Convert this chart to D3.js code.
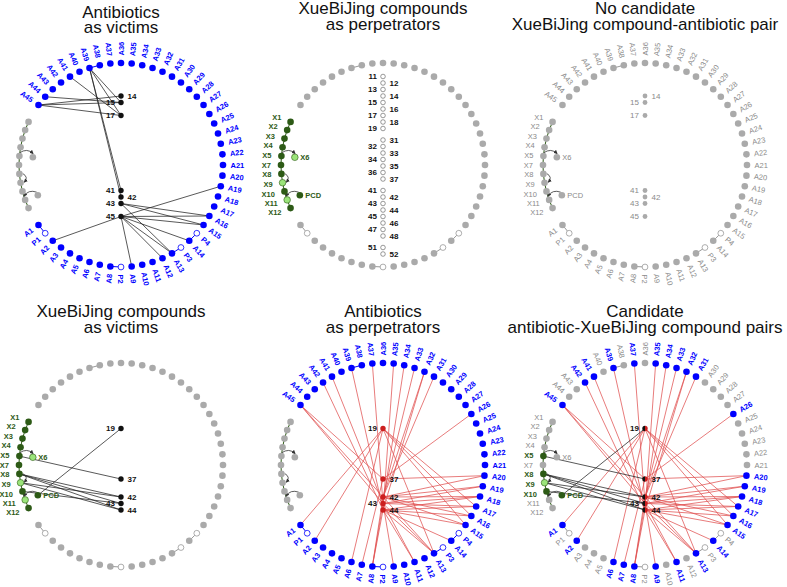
<!DOCTYPE html>
<meta charset="utf-8">
<style>
body { margin: 0; background: #fff; }
text { font-family: "Liberation Sans", Arial, sans-serif; }
</style>
<body>
<svg width="787" height="587"></svg>
<script src="https://d3js.org/d3.v7.min.js"></script>
<script>
// ring of antibiotics, clockwise from upper left (A45) to lower left (A1)
var ringNames = ["A45","A44","A43","A42","A41","A40","A39","A38","A37",
  "A36","A35","A34","A33","A32","A31","A30","A29","A28","A27","A26","A25","A24","A23","A22","A21",
  "A20","A19","A18","A17","A16","A15","P4","A14","P3","A13","A12","A11","A10","A9","P2",
  "A8","A7","A6","A5","A4","A3","A2","P1","A1"];
// XueBiJing compounds on the left arc, top to bottom
var xChain = ["X1","X2","X3","X4","X5","X7","X8","X9","X10","X11","X12"];
var xBranch = [["X6","X5"], ["PCD","X11"]];          // branch node, sits next to
var xMetabolites = ["X6","X9","X11"];
var xArrows = [["X5","X6"], ["X8","X9"], ["PCD","X11"]];
var prodrugLinks = [["A1","P1"], ["A8","P2"], ["A13","P3"], ["A14","P4"], ["A39","A38"]];
// central targets, in groups
var innerGroups = [["11","12","13","14","15","16","17","18","19"],
  ["31","32","33","34","35","36","37"],
  ["41","42","43","44","45","46","47","48"],
  ["51","52"]];

var victimInner = ["14","15","17","41","42","43","45"];
var victimEdges = [["14","A45"],["15","A45"],["17","A45"],["15","A44"],["17","A41"],
  ["15","A39"],["17","A39"],["41","A39"],["42","A39"],
  ["43","A16"],["43","A15"],["43","A13"],
  ["45","A19"],["45","A16"],["45","A15"],["45","A14"],["45","A13"],["45","A12"],["45","A9"],["45","A2"]];

var xbjInner = ["19","37","42","43","44"];
var xbjVictimEdges = [["19","PCD"],["37","X5"],["42","X8"],["43","X8"],["44","X8"],
  ["42","X9"],["44","X9"],["43","X10"]];

var perpEdges = [["19","A1"],["19","A2"],["19","A6"],["19","A13"],["19","A15"],["19","A16"],["19","A17"],
  ["37","A7"],["37","A20"],["37","A26"],["37","A45"],
  ["42","A8"],["42","A13"],["42","A15"],["42","A16"],["42","A18"],["42","A19"],["42","A20"],["42","A31"],["42","A32"],["42","A33"],["42","A45"],
  ["43","A8"],["43","A9"],["43","A11"],["43","A13"],["43","A17"],["43","A18"],["43","A19"],["43","A34"],["43","A37"],["43","A41"],["43","A45"],
  ["44","A8"],["44","A11"],["44","A13"],["44","A14"],["44","A15"],["44","A16"],["44","A17"],["44","A18"],["44","A32"],["44","A35"],["44","A39"],["44","A42"]];

var titles = [["Antibiotics","as victims"], ["XueBiJing compounds","as perpetrators"],
  ["No candidate","XueBiJing compound-antibiotic pair"], ["XueBiJing compounds","as victims"],
  ["Antibiotics","as perpetrators"], ["Candidate","antibiotic-XueBiJing compound pairs"]];

var BLUE = "#0000ff", GRAY = "#aaaaaa", GRAYTXT = "#8a8a8a", DKGREEN = "#2d5a16",
    LTGREEN = "#9be47a", RED = "#cc1f1f", REDLINE = "#e05050";

var R = 102, RL = 109.5, RX = 112, RB = 88.5, NR = 3.3;

var svg = d3.select("svg");
svg.append("defs").append("marker")
    .attr("id", "arr").attr("viewBox", "0 -3 6 6")
    .attr("refX", 5).attr("refY", 0)
    .attr("markerUnits", "userSpaceOnUse")
    .attr("markerWidth", 4).attr("markerHeight", 4)
    .attr("orient", "auto")
  .append("path").attr("d", "M0,-3L6,0L0,3Z").attr("fill", "#333");

var angle = d3.scaleLinear().domain([0, ringNames.length - 1]).range([-54, 234]);
var xAngle = d3.scaleLinear().domain([0, xChain.length - 1]).range([295, 245]);
var innerSlots = [];
innerGroups.forEach(function(g, gi) {
  g.forEach(function(id) { innerSlots.push({id: id, slot: innerSlots.length + gi * 0.77}); });
});
var innerY = d3.scaleLinear().domain([0, 1]).range([-88.5, -82]);

function polar(a, r) {
  var t = a * Math.PI / 180;
  return [r * Math.sin(t), -r * Math.cos(t)];
}

// node positions, relative to a panel centre
var pos = {};
ringNames.forEach(function(n, i) { pos[n] = polar(angle(i), R); });
xChain.forEach(function(n, i) { pos[n] = polar(xAngle(i), R); });
xBranch.forEach(function(b) { pos[b[0]] = polar(xAngle(xChain.indexOf(b[1])), RB); });
innerSlots.forEach(function(d, i) { pos[d.id] = [0, innerY(d.slot)]; d.left = i % 2 === 0; });
var innerIndex = {};
innerSlots.forEach(function(d) { innerIndex[d.id] = d; });

var layout = [
  {cx: 121, cy: 165, ty: 17.5, ring: "blue", chain: "plain", inner: victimInner, innerStyle: "black",
   edges: [[victimEdges, "#222"]]},
  {cx: 383, cy: 165, ty: 14, ring: "gray", chain: "green", inner: innerSlots.map(function(d) { return d.id; }), innerStyle: "open",
   edges: []},
  {cx: 645, cy: 165, ty: 14, ring: "grayLabels", chain: "grayLabels", inner: victimInner, innerStyle: "gray",
   edges: []},
  {cx: 121, cy: 465, ty: 316.7, ring: "gray", chain: "green", inner: xbjInner, innerStyle: "black",
   edges: [[xbjVictimEdges, "#222"]]},
  {cx: 383, cy: 465, ty: 316.7, ring: "blue", chain: "plain", inner: xbjInner, innerStyle: "red",
   edges: [[perpEdges, REDLINE]]},
  {cx: 645, cy: 465, ty: 316.7, ring: "select", chain: "select", inner: xbjInner, innerStyle: "half",
   edges: [[perpEdges, REDLINE], [xbjVictimEdges, "#222"]]}
];

var selA = {}, selX = {};
perpEdges.forEach(function(e) { selA[e[1]] = true; });
xbjVictimEdges.forEach(function(e) { selX[e[1]] = true; });

layout.forEach(function(p, pi) {
  titles[pi].forEach(function(t, k) {
    svg.append("text").attr("x", p.cx).attr("y", p.ty + k * 15.8)
        .attr("text-anchor", "middle").style("font-size", "17px").attr("fill", "#111")
        .text(t);
  });

  var g = svg.append("g").attr("transform", "translate(" + p.cx + "," + p.cy + ")");

  // interaction edges
  p.edges.forEach(function(set) {
    g.selectAll(null).data(set[0]).enter().append("line")
        .attr("x1", function(d) { return pos[d[0]][0]; })
        .attr("y1", function(d) { return pos[d[0]][1]; })
        .attr("x2", function(d) { return pos[d[1]][0]; })
        .attr("y2", function(d) { return pos[d[1]][1]; })
        .attr("stroke", set[1]).attr("stroke-width", 0.75);
  });

  // ring
  var ringOn = function(n) {
    if (p.ring === "blue") return true;
    if (p.ring === "select") return !!selA[n];
    return false;
  };
  g.selectAll(null).data(prodrugLinks).enter().append("line")
      .attr("x1", function(d) { return pos[d[0]][0]; })
      .attr("y1", function(d) { return pos[d[0]][1]; })
      .attr("x2", function(d) { return pos[d[1]][0]; })
      .attr("y2", function(d) { return pos[d[1]][1]; })
      .attr("stroke", function(d) { return p.ring === "blue" ? BLUE : "#999"; })
      .attr("stroke-width", 1);
  var ring = ringNames.map(function(n, i) { return {name: n, a: (angle(i) + 360) % 360, p: n[0] === "P"}; });
  g.selectAll(null).data(ring).enter().append("circle")
      .attr("cx", function(d) { return pos[d.name][0]; })
      .attr("cy", function(d) { return pos[d.name][1]; })
      .attr("r", function(d) { return d.p ? NR - 0.4 : NR; })
      .attr("fill", function(d) { return d.p ? "#fff" : (ringOn(d.name) ? BLUE : GRAY); })
      .attr("stroke", function(d) { return d.p ? (p.ring === "blue" ? BLUE : "#999") : "none"; })
      .attr("stroke-width", 0.8);
  if (p.ring !== "gray") {
    g.selectAll(null).data(ring).enter().append("text")
        .attr("transform", function(d) {
          return "rotate(" + (d.a - 90) + ")translate(" + RL + ",0)" + (d.a > 180 ? "rotate(180)" : "");
        })
        .attr("text-anchor", function(d) { return d.a > 180 ? "end" : "start"; })
        .attr("dy", "0.35em")
        .style("font-size", "7.5px")
        .style("font-weight", function(d) {
          return (p.ring === "blue" || ringOn(d.name)) && !(p.ring === "select" && d.p) ? "bold" : "normal";
        })
        .attr("fill", function(d) {
          if (p.ring === "blue") return BLUE;
          return ringOn(d.name) ? BLUE : GRAYTXT;
        })
        .text(function(d) { return d.name; });
  }

  // XueBiJing chain
  var chainLine = d3.line().x(function(n) { return pos[n][0]; }).y(function(n) { return pos[n][1]; });
  g.append("path").attr("d", chainLine(xChain)).attr("fill", "none")
      .attr("stroke", DKGREEN).attr("stroke-width", 1);
  g.selectAll(null).data(xArrows).enter().append("path")
      .attr("d", function(d) {
        var a = pos[d[0]], b = pos[d[1]];
        var dx = b[0] - a[0], dy = b[1] - a[1], L = Math.sqrt(dx * dx + dy * dy);
        var ux = dx / L, uy = dy / L;
        var nx = uy, ny = -ux;
        if (nx - ny < 0) { nx = -nx; ny = -ny; }
        var s = [a[0] + nx * NR, a[1] + ny * NR], e = [b[0] + nx * (NR + 0.5), b[1] + ny * (NR + 0.5)];
        var c = [(a[0] + b[0]) / 2 + nx * 9, (a[1] + b[1]) / 2 + ny * 9];
        return "M" + s + "Q" + c + " " + e;
      })
      .attr("fill", "none").attr("stroke", "#333").attr("stroke-width", 0.8)
      .attr("marker-end", "url(#arr)");
  var xNodes = xChain.concat(xBranch.map(function(b) { return b[0]; }));
  var xOn = function(n) {
    if (p.chain === "green") return true;
    if (p.chain === "select") return !!selX[n];
    return false;
  };
  g.selectAll(null).data(xNodes).enter().append("circle")
      .attr("cx", function(n) { return pos[n][0]; })
      .attr("cy", function(n) { return pos[n][1]; })
      .attr("r", NR)
      .attr("fill", function(n) {
        if (!xOn(n)) return GRAY;
        return xMetabolites.indexOf(n) >= 0 ? LTGREEN : DKGREEN;
      })
      .attr("stroke", function(n) { return xOn(n) && xMetabolites.indexOf(n) >= 0 ? DKGREEN : "none"; })
      .attr("stroke-width", 0.6);
  if (p.chain !== "plain") {
    var xl = g.selectAll(null).data(xNodes).enter().append("text")
        .attr("dy", "0.35em")
        .style("font-size", "7.5px")
        .style("font-weight", function(n) { return xOn(n) ? "bold" : "normal"; })
        .attr("fill", function(n) { return xOn(n) ? DKGREEN : GRAYTXT; })
        .text(function(n) { return n; });
    xl.each(function(n) {
      var t = d3.select(this), i = xChain.indexOf(n);
      if (i >= 0) {
        var q = polar(xAngle(i), RX);
        t.attr("x", q[0]).attr("y", q[1]).attr("text-anchor", "end");
      } else {
        t.attr("x", pos[n][0] + 5.5).attr("y", pos[n][1]).attr("text-anchor", "start");
      }
    });
  }

  // central targets
  var inner = p.inner.map(function(id) { return innerIndex[id]; });
  var ig = g.selectAll(null).data(inner).enter().append("g")
      .attr("transform", function(d) { return "translate(" + pos[d.id] + ")"; });
  if (p.innerStyle === "half") {
    var r = 2.7;
    ig.append("path").attr("d", "M0," + (-r) + "A" + r + "," + r + " 0 0 0 0," + r + "Z").attr("fill", "#111");
    ig.append("path").attr("d", "M0," + (-r) + "A" + r + "," + r + " 0 0 1 0," + r + "Z").attr("fill", RED);
  } else {
    ig.append("circle")
        .attr("r", p.innerStyle === "open" ? 2.3 : (p.innerStyle === "gray" ? 2.4 : 2.7))
        .attr("fill", {black: "#111", open: "#fff", gray: GRAY, red: RED}[p.innerStyle])
        .attr("stroke", p.innerStyle === "open" ? "#555" : "none")
        .attr("stroke-width", 0.6);
  }
  ig.append("text")
      .attr("x", function(d) { return d.left ? -6 : 6.5; })
      .attr("dy", "0.35em")
      .attr("text-anchor", function(d) { return d.left ? "end" : "start"; })
      .style("font-size", "8px")
      .style("font-weight", p.innerStyle === "gray" ? "normal" : "bold")
      .attr("fill", p.innerStyle === "gray" ? GRAYTXT : "#111")
      .text(function(d) { return d.id; });
});
</script>
</body>
